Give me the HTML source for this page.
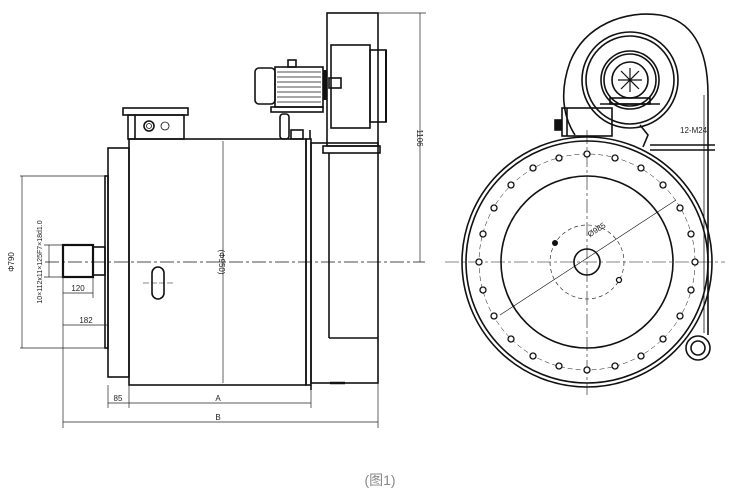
<!DOCTYPE html>
<html><head><meta charset="utf-8"><style>
html,body{margin:0;padding:0;background:#fff;}
svg{display:block}
</style></head><body>
<svg width="733" height="497" viewBox="0 0 733 497" xmlns="http://www.w3.org/2000/svg" font-family="Liberation Sans, sans-serif">
<g fill="none" stroke="#111" stroke-width="1.6">
<line x1="45" y1="262" x2="425" y2="262" stroke-width="0.7" stroke-dasharray="14,3,3,3"/>
<rect x="129" y="139" width="177" height="246"/>
<rect x="108" y="148" width="21" height="229"/>
<rect x="105" y="176" width="3" height="172"/>
<rect x="63" y="245" width="30" height="32" stroke-width="2.2"/>
<rect x="93" y="247" width="12" height="28"/>
<rect x="306" y="139" width="5" height="246"/>
<line x1="311" y1="385" x2="311" y2="390"/>
<rect x="311" y="143" width="67" height="240"/>
<line x1="329" y1="153" x2="329" y2="338"/>
<line x1="329" y1="338" x2="378" y2="338"/>
<line x1="330" y1="383" x2="345" y2="383" stroke-width="2.5"/>
<rect x="327" y="13" width="51" height="133"/>
<rect x="331" y="45" width="39" height="83"/>
<rect x="370" y="50" width="16" height="72"/>
<line x1="386" y1="50" x2="386" y2="122" stroke-width="2"/>
<rect x="323" y="146" width="57" height="7"/>
<line x1="325" y1="70" x2="325" y2="100" stroke-width="3"/>
<rect x="329" y="78" width="12" height="10"/>
<rect x="255" y="68" width="20" height="36" rx="4"/>
<rect x="275" y="67" width="48" height="40"/>
<g stroke-width="0.8">
<line x1="277" y1="72" x2="321" y2="72"/><line x1="277" y1="77" x2="321" y2="77"/>
<line x1="277" y1="82" x2="321" y2="82"/><line x1="277" y1="87" x2="321" y2="87"/>
<line x1="277" y1="92" x2="321" y2="92"/><line x1="277" y1="97" x2="321" y2="97"/>
<line x1="277" y1="102" x2="321" y2="102"/>
</g>
<rect x="288" y="60" width="8" height="7"/>
<rect x="271" y="107" width="52" height="5"/>
<rect x="280" y="114" width="9" height="25" rx="3"/>
<rect x="291" y="130" width="12" height="9"/>
<line x1="310" y1="130" x2="310" y2="139"/>
<rect x="123" y="108" width="65" height="7"/>
<rect x="128" y="115" width="56" height="24"/>
<line x1="135" y1="115" x2="135" y2="139"/>
<circle cx="149" cy="126" r="5"/><circle cx="149" cy="126" r="2.5" stroke-width="0.8"/>
<circle cx="165" cy="126" r="4" stroke-width="0.8"/>
<rect x="152" y="267" width="12" height="32" rx="6"/>
<line x1="143" y1="283" x2="175" y2="283" stroke-width="0.6" stroke-dasharray="6,2"/>
</g>
<g fill="none" stroke="#222" stroke-width="0.7">
<line x1="378" y1="13" x2="426" y2="13"/>
<line x1="420" y1="13" x2="420" y2="262"/>
<line x1="20" y1="176" x2="105" y2="176"/>
<line x1="20" y1="348" x2="105" y2="348"/>
<line x1="22" y1="176" x2="22" y2="348"/>
<line x1="44" y1="245" x2="63" y2="245"/>
<line x1="44" y1="277" x2="63" y2="277"/>
<line x1="49" y1="245" x2="49" y2="277"/>
<line x1="63" y1="277" x2="63" y2="428"/>
<line x1="93" y1="277" x2="93" y2="298"/>
<line x1="63" y1="293" x2="93" y2="293"/>
<line x1="63" y1="325" x2="108" y2="325"/>
<line x1="108" y1="385" x2="108" y2="408"/>
<line x1="129" y1="385" x2="129" y2="408"/>
<line x1="311" y1="390" x2="311" y2="408"/>
<line x1="378" y1="383" x2="378" y2="428"/>
<line x1="108" y1="403" x2="311" y2="403"/>
<line x1="63" y1="422" x2="378" y2="422"/>
<line x1="223" y1="141" x2="223" y2="383"/>
</g>
<g fill="#222" font-size="8">
<text transform="translate(417,138) rotate(90)" text-anchor="middle">1106</text>
<text transform="translate(14,262) rotate(-90)" text-anchor="middle">Φ790</text>
<text transform="translate(42,262) rotate(-90)" text-anchor="middle" font-size="7">10×112x11×125F7×18d1.0</text>
<text x="78" y="291" text-anchor="middle">120</text>
<text x="86" y="323" text-anchor="middle">182</text>
<text x="118" y="401" text-anchor="middle">85</text>
<text x="218" y="401" text-anchor="middle">A</text>
<text x="218" y="420" text-anchor="middle">B</text>
<text transform="translate(219,262) rotate(90)" text-anchor="middle">(Φ950)</text>
</g>
<g fill="none" stroke="#111" stroke-width="1.6">
<line x1="445" y1="262" x2="725" y2="262" stroke-width="0.6" stroke-dasharray="14,3,3,3"/>
<line x1="587" y1="130" x2="587" y2="395" stroke-width="0.6" stroke-dasharray="14,3,3,3"/>
<path d="M575,135 C562,115 560,90 570,62 C585,25 625,10 660,15 C690,20 708,45 708,95 L708,335"/>
<line x1="704" y1="95" x2="704" y2="333" stroke-width="0.8"/>
<circle cx="630" cy="80" r="48"/>
<circle cx="630" cy="80" r="44"/>
<circle cx="630" cy="80" r="29"/>
<circle cx="630" cy="80" r="26"/>
<circle cx="630" cy="80" r="18"/>
<g stroke-width="1.2">
<line x1="618" y1="80" x2="642" y2="80"/><line x1="630" y1="68" x2="630" y2="92"/>
<line x1="621" y1="71" x2="639" y2="89"/><line x1="639" y1="71" x2="621" y2="89"/>
</g>
<rect x="610" y="98" width="40" height="6"/>
<line x1="600" y1="104" x2="660" y2="104"/>
<rect x="562" y="108" width="50" height="28"/>
<line x1="567" y1="108" x2="567" y2="136"/>
<rect x="555" y="120" width="6" height="10" fill="#111"/>
<line x1="650" y1="145" x2="715" y2="145"/><line x1="650" y1="150" x2="715" y2="150"/>
<path d="M640,125 l8,10 l-5,12"/>
<circle cx="587" cy="262" r="125"/>
<circle cx="587" cy="262" r="121"/>
<circle cx="587" cy="262" r="108" stroke-width="0.5" stroke-dasharray="5,3"/>
<circle cx="587" cy="262" r="86"/>
<circle cx="587" cy="262" r="37" stroke-width="0.6" stroke-dasharray="4,3"/>
<circle cx="587" cy="262" r="13"/>
<circle cx="698" cy="348" r="12"/><circle cx="698" cy="348" r="7"/>
<line x1="500" y1="315" x2="676" y2="200" stroke-width="0.6"/>
</g>
<g fill="#fff" stroke="#111" stroke-width="1.3">
<circle cx="587" cy="154" r="3"/><circle cx="615" cy="158" r="3"/><circle cx="641" cy="168" r="3"/>
<circle cx="663" cy="185" r="3"/><circle cx="680" cy="208" r="3"/><circle cx="691" cy="234" r="3"/>
<circle cx="695" cy="262" r="3"/><circle cx="691" cy="290" r="3"/><circle cx="680" cy="316" r="3"/>
<circle cx="663" cy="339" r="3"/><circle cx="641" cy="356" r="3"/><circle cx="615" cy="366" r="3"/>
<circle cx="587" cy="370" r="3"/><circle cx="559" cy="366" r="3"/><circle cx="533" cy="356" r="3"/>
<circle cx="511" cy="339" r="3"/><circle cx="494" cy="316" r="3"/><circle cx="483" cy="290" r="3"/>
<circle cx="479" cy="262" r="3"/><circle cx="483" cy="234" r="3"/><circle cx="494" cy="208" r="3"/>
<circle cx="511" cy="185" r="3"/><circle cx="533" cy="168" r="3"/><circle cx="559" cy="158" r="3"/>
<circle cx="619" cy="280" r="2.5"/>
</g>
<circle cx="555" cy="243" r="3" fill="#111"/>
<g fill="#222" font-size="8">
<text x="680" y="133">12-M24</text>
<text transform="translate(598,232) rotate(-33)" text-anchor="middle">Ø985</text>
</g>
<text x="380" y="485" text-anchor="middle" font-size="14" fill="#888" font-family="Liberation Sans, Noto Sans CJK SC, sans-serif">(图1)</text>
</svg>
</body></html>
